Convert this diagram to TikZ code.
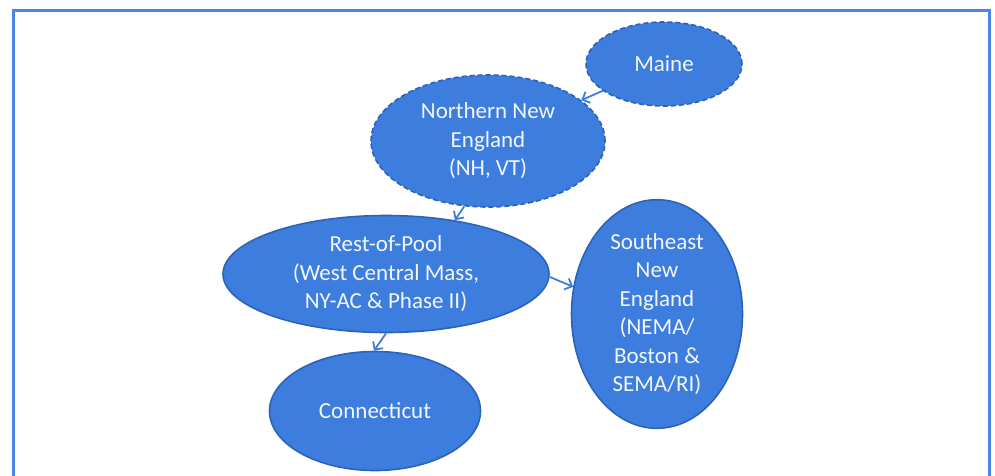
\documentclass[tikz,border=0pt]{standalone}
\usepackage{fontspec}
\setmainfont{Carlito}
\usetikzlibrary{shapes.geometric,arrows.meta}
\definecolor{fillblue}{HTML}{3D7DDE}
\definecolor{edgeblue}{HTML}{2C62BA}
\definecolor{framebl}{HTML}{4A86E8}
\definecolor{txtw}{HTML}{F2F6FF}
\tikzset{
  region/.style={ellipse, draw=edgeblue, line width=1.6pt, fill=fillblue, text=txtw,
    inner sep=0pt, align=center, font=\fontsize{23}{28.5}\selectfont},
  dashreg/.style={region, dash pattern=on 5pt off 3pt},
  link/.style={draw=fillblue, line width=1.8pt, -{Straight Barb[length=6pt,width=12pt,line width=1.8pt]}},
}
\begin{document}
\begin{tikzpicture}[x=1pt,y=-1pt]
\useasboundingbox (0,0) rectangle (995,475);
\draw[framebl, line width=3pt] (13,485) -- (13,10) -- (989,10) -- (989,485);
\node[dashreg, minimum width=156pt, minimum height=84pt] (maine) at (664,64) {Maine};
\node[dashreg, minimum width=234pt, minimum height=132pt] (north) at (488,141) {Northern New\\England\\(NH, VT)};
\node[region, minimum width=326pt, minimum height=117pt] (rest) at (386,274) {Rest-of-Pool\\(West Central Mass,\\NY-AC \& Phase II)};
\node[region, minimum width=171pt, minimum height=208pt] (se) at (657,314) {Southeast\\New\\England\\(NEMA/\\Boston \&\\SEMA/RI)};
\node[region, minimum width=211pt, minimum height=119pt] (ct) at (375,411) {Connecticut};
\draw[link] (maine) -- (north);
\draw[link] (north.-110) -- (rest.38);
\draw[link] (rest.-1) -- (se.162);
\draw[link] (rest.-90) -- (ct.91);
\end{tikzpicture}
\end{document}
